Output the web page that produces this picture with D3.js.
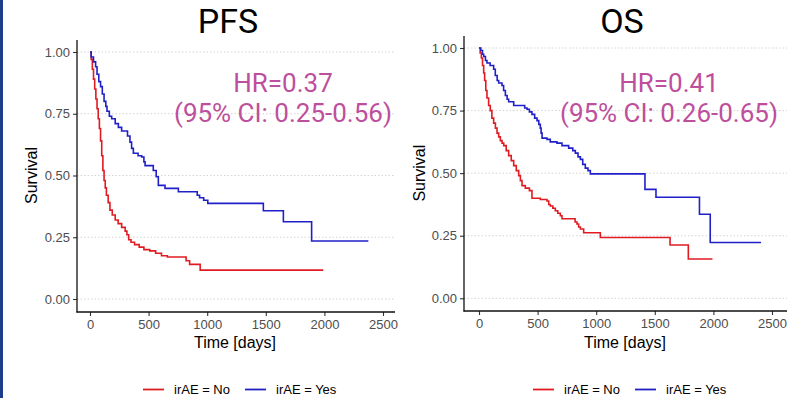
<!DOCTYPE html>
<html>
<head>
<meta charset="utf-8">
<script src="https://cdn.jsdelivr.net/npm/d3@7"></script>
<style>
  body { margin: 0; background: #fff; }
  svg { display: block; }
</style>
</head>
<body>
<svg id="chart" width="795" height="398"></svg>
<script>
// Kaplan-Meier step data: [time (days), survival after that time]
let pfsNo = [[0,1],[10,0.97],[20,0.93],[30,0.89],[40,0.85],[50,0.81],[60,0.77],[70,0.73],[80,0.69],[90,0.64],
  [100,0.58],[110,0.52],[120,0.48],[130,0.45],[140,0.42],[155,0.39],[170,0.36],[190,0.34],[215,0.32],[240,0.305],
  [270,0.29],[300,0.275],[315,0.26],[330,0.24],[350,0.23],[380,0.22],[420,0.21],[460,0.2],[510,0.195],[560,0.185],
  [610,0.175],[660,0.17],[820,0.155],[850,0.14],[940,0.117],[1990,0.117]];

let pfsYes = [[0,1],[10,0.98],[30,0.96],[48,0.94],[60,0.91],[75,0.88],[90,0.86],[105,0.83],[120,0.80],[135,0.78],
  [145,0.76],[165,0.74],[185,0.73],[215,0.71],[242,0.695],[270,0.68],[320,0.66],[341,0.635],[355,0.61],[370,0.59],
  [410,0.58],[441,0.575],[460,0.555],[470,0.54],[540,0.52],[565,0.495],[583,0.46],[640,0.448],[754,0.434],
  [915,0.42],[935,0.41],[970,0.40],[1005,0.387],[1479,0.357],[1650,0.313],[1891,0.235],[2375,0.235]];

let osNo = [[0,1],[10,0.98],[20,0.96],[30,0.93],[40,0.90],[48,0.87],[58,0.83],[68,0.80],[82,0.77],[96,0.75],
  [110,0.72],[125,0.70],[140,0.68],[154,0.66],[168,0.645],[182,0.63],[197,0.62],[211,0.61],[232,0.59],[253,0.57],
  [275,0.55],[296,0.53],[318,0.51],[339,0.49],[353,0.47],[367,0.45],[395,0.44],[430,0.43],[452,0.40],[523,0.395],
  [580,0.389],[595,0.375],[608,0.369],[630,0.36],[651,0.35],[672,0.34],[694,0.33],[708,0.318],[820,0.305],
  [836,0.297],[850,0.285],[865,0.277],[893,0.262],[1035,0.243],[1630,0.213],[1786,0.157],[1992,0.157]];

let osYes = [[0,1],[15,0.99],[30,0.975],[40,0.966],[55,0.95],[68,0.94],[95,0.93],[125,0.915],[139,0.89],[155,0.87],
  [168,0.86],[196,0.85],[210,0.83],[225,0.81],[240,0.795],[253,0.785],[296,0.77],[390,0.76],[410,0.755],[430,0.745],
  [452,0.735],[475,0.72],[495,0.71],[510,0.695],[523,0.68],[530,0.66],[538,0.64],[580,0.635],[608,0.625],
  [665,0.62],[708,0.61],[765,0.60],[800,0.59],[822,0.58],[845,0.565],[865,0.555],[885,0.535],[907,0.52],
  [930,0.51],[950,0.497],[1416,0.435],[1510,0.404],[1881,0.336],[1973,0.223],[2406,0.223]];

let xTicks = [0, 500, 1000, 1500, 2000, 2500];
let yTicks = [0, 0.25, 0.5, 0.75, 1];
let groups = ["irAE = No", "irAE = Yes"];
let titles = ["PFS", "OS"];
let hrLabels = ["HR=0.37", "HR=0.41"];
let ciLabels = ["(95% CI: 0.25-0.56)", "(95% CI: 0.26-0.65)"];

let colors = ["#e01b22", "#2020c8"];
let hrColor = "#bd4f9c";

let svg = d3.select("#chart");

// thin navy stripe on the left edge
svg.append("rect").attr("x", 0).attr("y", 0).attr("width", 3).attr("height", 398).attr("fill", "#1d3c8a");

// panel geometry (pixels)
let panels = [
  { x0: 90, x2500: 383, axL: 77, axR: 395, y1: 52, y0: 299, axT: 40, axB: 312,
    titleX: 228, hrX: 283, ylabX: 31, xlabX: 235, legX: 143, data: [pfsNo, pfsYes] },
  { x0: 479, x2500: 772, axL: 464, axR: 787, y1: 48, y0: 298.3, axT: 36, axB: 311,
    titleX: 622, hrX: 669, ylabX: 419, xlabX: 625, legX: 533, data: [osNo, osYes] }
];

panels.forEach(function(p, i) {
  let x = d3.scaleLinear().domain([0, 2500]).range([p.x0, p.x2500]);
  let y = d3.scaleLinear().domain([0, 1]).range([p.y0, p.y1]);
  let g = svg.append("g");

  // horizontal dotted grid
  g.selectAll(".grid").data(yTicks).enter().append("line")
      .attr("x1", p.axL).attr("x2", p.axR)
      .attr("y1", d => y(d)).attr("y2", d => y(d))
      .attr("stroke", "#d4d4d4").attr("stroke-width", 1)
      .attr("stroke-dasharray", "1.5,2");

  // axes
  let ya = g.append("g").attr("transform", "translate(" + p.axL + ",0)")
      .call(d3.axisLeft(y).tickValues(yTicks).tickFormat(d3.format(".2f")).tickSize(4).tickPadding(3));
  let xa = g.append("g").attr("transform", "translate(0," + p.axB + ")")
      .call(d3.axisBottom(x).tickValues(xTicks).tickFormat(d3.format("d")).tickSize(4).tickPadding(4));
  [ya, xa].forEach(function(a) {
    a.select(".domain").remove();
    a.selectAll(".tick line").attr("stroke", "#333").attr("stroke-width", 1.1);
    a.selectAll(".tick text").attr("fill", "#4d4d4d")
      .style("font-family", "Arial, 'Liberation Sans', sans-serif").style("font-size", "13px");
  });
  g.append("line").attr("x1", p.axL).attr("x2", p.axL).attr("y1", p.axT).attr("y2", p.axB + 0.5)
      .attr("stroke", "#111").attr("stroke-width", 1.3);
  g.append("line").attr("x1", p.axL - 0.5).attr("x2", p.axR).attr("y1", p.axB).attr("y2", p.axB)
      .attr("stroke", "#111").attr("stroke-width", 1.3);

  // KM curves
  let line = d3.line().x(d => x(d[0])).y(d => y(d[1])).curve(d3.curveStepAfter);
  p.data.forEach(function(series, k) {
    g.append("path").datum(series).attr("d", line)
        .attr("fill", "none").attr("stroke", colors[k]).attr("stroke-width", 1.6);
  });

  // title
  g.append("text").attr("x", p.titleX).attr("y", 33).attr("text-anchor", "middle")
      .style("font-family", "Roboto, Arial, sans-serif").style("font-size", "34px")
      .attr("fill", "#000").text(titles[i]);

  // HR annotation
  g.append("text").attr("x", p.hrX).attr("y", 92).attr("text-anchor", "middle")
      .style("font-family", "Roboto, Arial, sans-serif").style("font-size", "26px")
      .attr("fill", hrColor).text(hrLabels[i]);
  g.append("text").attr("x", p.hrX).attr("y", 122).attr("text-anchor", "middle")
      .style("font-family", "Roboto, Arial, sans-serif").style("font-size", "26px")
      .attr("fill", hrColor).text(ciLabels[i]);

  // axis titles
  g.append("text").attr("transform", "translate(" + p.ylabX + "," + y(0.5) + ") rotate(-90)")
      .attr("text-anchor", "middle").attr("dy", "0.35em")
      .style("font-family", "Arial, 'Liberation Sans', sans-serif").style("font-size", "16px")
      .attr("fill", "#000").text("Survival");
  g.append("text").attr("x", p.xlabX).attr("y", 348).attr("text-anchor", "middle")
      .style("font-family", "Arial, 'Liberation Sans', sans-serif").style("font-size", "16px")
      .attr("fill", "#000").text("Time [days]");

  // legend
  let leg = g.append("g").attr("transform", "translate(" + p.legX + ",389.5)");
  let offsets = [0, 102];
  groups.forEach(function(name, k) {
    leg.append("line").attr("x1", offsets[k]).attr("x2", offsets[k] + 21).attr("y1", 0).attr("y2", 0)
        .attr("stroke", colors[k]).attr("stroke-width", 1.8);
    leg.append("text").attr("x", offsets[k] + 31).attr("y", 4.5)
        .style("font-family", "Arial, 'Liberation Sans', sans-serif").style("font-size", "13px")
        .attr("fill", "#000").text(name);
  });
});
</script>
</body>
</html>
